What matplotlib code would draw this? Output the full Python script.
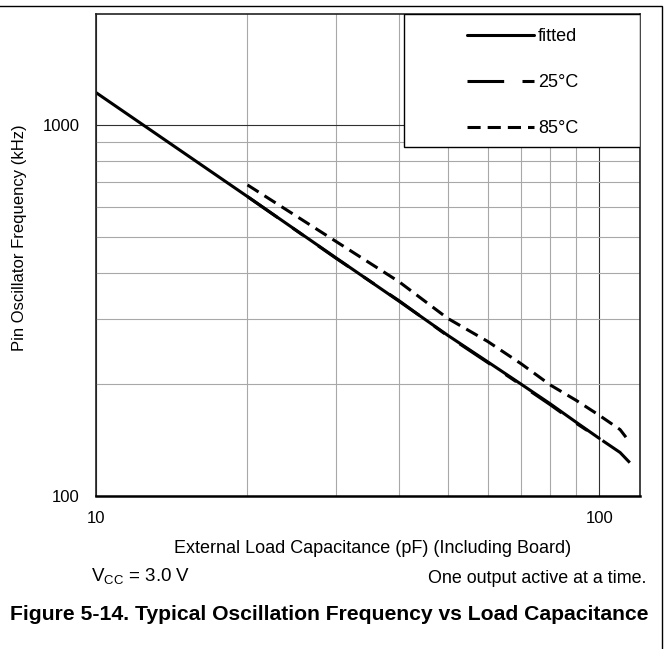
import numpy as np
import matplotlib
matplotlib.use("Agg")
import matplotlib.pyplot as plt
from matplotlib.patches import Rectangle
from matplotlib.ticker import FixedLocator, NullFormatter

plt.rcParams['font.family'] = ['Liberation Sans', 'DejaVu Sans']
plt.rcParams['mathtext.fontset'] = 'custom'
plt.rcParams['mathtext.rm'] = 'Liberation Sans'

# values (pF, kHz)
cap_fit = [10, 20, 30, 40, 50, 60, 70, 80, 90, 100]
freq_fit = [1222, 641, 438, 335, 271, 230, 200, 177, 158, 143]
cap_25 = [20, 30, 40, 50, 60, 70, 80, 90, 100, 110, 115]
freq_25 = [641, 437, 336, 270, 229, 199, 176, 157, 143, 131, 123]
cap_85 = [20, 30, 40, 50, 60, 70, 80, 90, 100, 110, 113]
freq_85 = [689, 485, 378, 301, 261, 227, 199, 181, 165, 151, 144]
series_names = ['fitted', '25°C', '85°C']

W, H = 665, 649
fig = plt.figure(figsize=(W / 100, H / 100), dpi=100)
ax = fig.add_axes([96 / W, 1 - 496 / H, 544 / W, 482 / H])

ax.set_xscale('log')
ax.set_yscale('log')
ax.set_xlim(10, 120.5)
ax.set_ylim(100, 1990)

# grid: grey minor lines, dark major lines
ax.xaxis.set_major_locator(FixedLocator([10, 100]))
ax.xaxis.set_minor_locator(FixedLocator([20, 30, 40, 50, 60, 70, 80, 90]))
ax.yaxis.set_major_locator(FixedLocator([100, 1000]))
ax.yaxis.set_minor_locator(FixedLocator([200, 300, 400, 500, 600, 700, 800, 900]))
ax.set_xticklabels(['10', '100'])
ax.set_yticklabels(['100', '1000'])
ax.xaxis.set_minor_formatter(NullFormatter())
ax.yaxis.set_minor_formatter(NullFormatter())
ax.grid(which='minor', color='#a8a8a8', lw=0.8)
ax.grid(which='major', color='#303030', lw=0.8)
ax.tick_params(which='both', length=0, labelsize=12)
ax.tick_params(axis='x', pad=11)
ax.tick_params(axis='y', pad=12)
for s in ax.spines.values():
    s.set_linewidth(1.2)
    s.set_color('#222222')
ax.spines['bottom'].set_linewidth(1.8)
ax.spines['bottom'].set_color('black')

lw = 2.2
h1, = ax.plot(cap_fit, freq_fit, color='black', lw=lw, solid_capstyle='round')
h2, = ax.plot(cap_25, freq_25, color='black', lw=lw, dashes=(12, 6, 4.2, 6),
              dash_capstyle='butt')
h3, = ax.plot(cap_85, freq_85, color='black', lw=lw, dashes=(4.3, 2.3),
              dash_capstyle='butt')

# legend box
box = Rectangle((0.566, 0.724), 0.434, 0.276, transform=ax.transAxes,
                facecolor='white', edgecolor='black', lw=1.0, zorder=5)
ax.add_patch(box)
leg = ax.legend([h1, h2, h3], series_names, loc='upper left',
                bbox_to_anchor=(0.655, 1.0), frameon=False, fontsize=13,
                handlelength=3.75, handletextpad=0.2, labelspacing=1.6,
                borderpad=0.8, borderaxespad=0)
leg.set_zorder(6)

fig.text(20 / W, 1 - 238 / H, 'Pin Oscillator Frequency (kHz)', rotation=90,
         ha='center', va='center', fontsize=12)
fig.text(372.5 / W, 1 - 553 / H, 'External Load Capacitance (pF) (Including Board)',
         ha='center', va='baseline', fontsize=13)
fig.text(91 / W, 1 - 582 / H, r'V$_{\mathrm{CC}}$ = 3.0 V', ha='left',
         va='baseline', fontsize=13.5)
fig.text(646 / W, 1 - 583 / H, 'One output active at a time.', ha='right',
         va='baseline', fontsize=12.9)
fig.text(329.5 / W, 1 - 620 / H,
         'Figure 5-14. Typical Oscillation Frequency vs Load Capacitance',
         ha='center', va='baseline', fontsize=15.2, fontweight='bold')

# outer frame of the figure block
fig.patches.append(Rectangle((-0.01, -0.01), 662 / W + 0.01, 1 - 6 / H + 0.01,
                             transform=fig.transFigure, fill=False,
                             edgecolor='black', lw=1.0))

fig.savefig('out.png', dpi=100)
